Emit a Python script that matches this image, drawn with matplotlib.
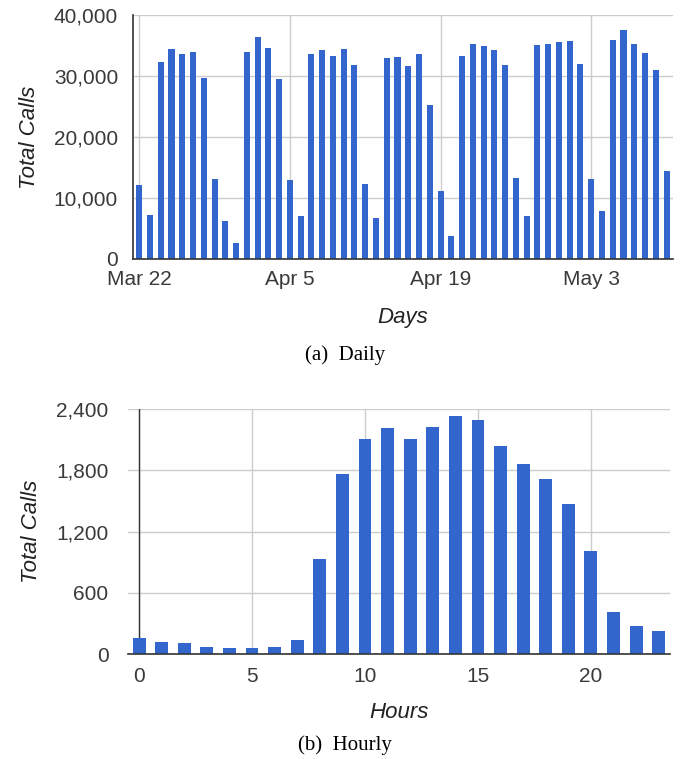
import matplotlib
matplotlib.use("Agg")
import matplotlib.pyplot as plt
import matplotlib.dates as mdates
import numpy as np
import pandas as pd

# ---- Data ----
start_date = "2014-03-22"
daily_calls = [12200, 7200, 32300, 34400, 33550, 34000, 29650, 13100, 6150, 2600,
               34000, 36400, 34650, 29450, 12900, 7000, 33550, 34200, 33350, 34450,
               31800, 12250, 6800, 32900, 33100, 31600, 33550, 25300, 11150, 3700,
               33350, 35300, 34850, 34200, 31800, 13350, 7000, 35100, 35300, 35500,
               35750, 32000, 13100, 7850, 35950, 37500, 35300, 33800, 30950, 14400]
daily_dates = pd.date_range(start_date, periods=len(daily_calls))
daily_tick_dates = ["2014-03-22", "2014-04-05", "2014-04-19", "2014-05-03"]
daily_tick_labels = ["Mar 22", "Apr 5", "Apr 19", "May 3"]
daily_yticks = [0, 10000, 20000, 30000, 40000]

hours = list(range(24))
hourly_calls = [163, 124, 108, 72, 59, 59, 72, 137, 933, 1767,
                2107, 2211, 2107, 2224, 2332, 2292, 2041, 1859, 1715, 1467,
                1011, 411, 280, 228]
hourly_xticks = [0, 5, 10, 15, 20]
hourly_yticks = [0, 600, 1200, 1800, 2400]

BAR = "#3366CC"
GRID = "#cccccc"
TXT = "#3a3a3a"
AX = "#333333"
SANS = ["Liberation Sans", "DejaVu Sans"]
SERIF = ["Liberation Serif", "DejaVu Serif"]

W, H = 689, 759
fig = plt.figure(figsize=(W / 100, H / 100), dpi=100)

def frac(l, t, r, b):
    return [l / W, 1 - b / H, (r - l) / W, (b - t) / H]

# ---- Top: daily ----
ax1 = fig.add_axes(frac(133.3, 15, 673, 259))
ax1.bar(daily_dates, daily_calls, width=0.56, color=BAR, zorder=3)
d0 = mdates.date2num(daily_dates[0])
ax1.set_xlim(d0 - 0.55, d0 + 49.6)
ax1.set_ylim(0, 40000)
ax1.set_yticks(daily_yticks)
ax1.set_yticklabels([f"{v:,}" for v in daily_yticks])
tick_nums = [mdates.date2num(pd.Timestamp(d)) for d in daily_tick_dates]
ax1.set_xticks(tick_nums)
ax1.set_xticklabels(daily_tick_labels)
ax1.grid(True, color=GRID, linewidth=1, zorder=0)
for s in ["top", "right"]:
    ax1.spines[s].set_visible(False)
for s in ["left", "bottom"]:
    ax1.spines[s].set_color(AX)
    ax1.spines[s].set_linewidth(1.2)
    ax1.spines[s].set_zorder(4)
ax1.tick_params(axis="both", length=0, labelsize=15, labelcolor=TXT)
ax1.tick_params(axis="x", pad=8)
ax1.tick_params(axis="y", pad=11)
for lab in ax1.get_xticklabels() + ax1.get_yticklabels():
    lab.set_family(SANS)
ax1.set_ylabel("Total Calls", fontsize=16, style="italic", family=SANS, color="#222222", labelpad=10)
ax1.set_xlabel("Days", fontsize=16, style="italic", family=SANS, color="#222222", labelpad=13)

fig.text(345 / W, 1 - 355 / H, "(a)  Daily", ha="center", va="center",
         fontsize=15, family=SERIF, color="black")

# ---- Bottom: hourly ----
ax2 = fig.add_axes(frac(128, 409, 670, 654.3))
ax2.bar(hours, hourly_calls, width=0.57, color=BAR, zorder=3)
ax2.set_xlim(-0.49, 23.5)
ax2.set_ylim(0, 2400)
ax2.set_yticks(hourly_yticks)
ax2.set_yticklabels([f"{v:,}" for v in hourly_yticks])
ax2.set_xticks(hourly_xticks)
ax2.grid(True, color=GRID, linewidth=1, zorder=0)
ax2.axvline(0, color=AX, linewidth=1, zorder=2)
for s in ["top", "right", "left"]:
    ax2.spines[s].set_visible(False)
ax2.spines["bottom"].set_color(AX)
ax2.spines["bottom"].set_linewidth(1.2)
ax2.spines["bottom"].set_zorder(4)
ax2.tick_params(axis="both", length=0, labelsize=15, labelcolor=TXT)
ax2.tick_params(axis="x", pad=9)
ax2.tick_params(axis="y", pad=14)
for lab in ax2.get_xticklabels() + ax2.get_yticklabels():
    lab.set_family(SANS)
ax2.set_ylabel("Total Calls", fontsize=16, style="italic", family=SANS, color="#222222", labelpad=10)
ax2.set_xlabel("Hours", fontsize=16, style="italic", family=SANS, color="#222222", labelpad=12)

fig.text(345 / W, 1 - 745 / H, "(b)  Hourly", ha="center", va="center",
         fontsize=15, family=SERIF, color="black")

fig.savefig("out.png", dpi=100)
